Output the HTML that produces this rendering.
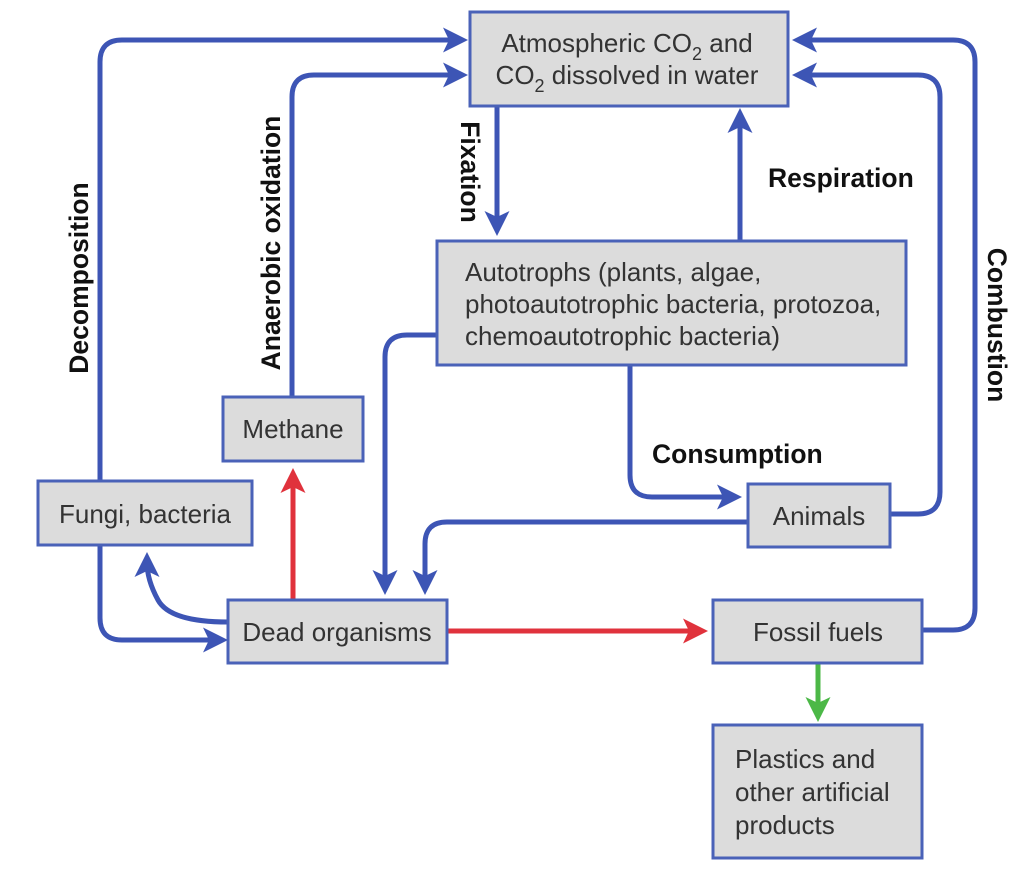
<!DOCTYPE html>
<html><head><meta charset="utf-8"><style>
html,body{margin:0;padding:0;background:#fff}
svg{display:block}
.b{fill:#dcdcdc;stroke:#4a62b8;stroke-width:3}
.t{font-family:"Liberation Sans",sans-serif;font-size:26px;fill:#333}
.l{font-family:"Liberation Sans",sans-serif;font-size:26.5px;font-weight:bold;fill:#111}
.a{fill:none;stroke:#3d55b5;stroke-width:5}
.r{fill:none;stroke:#e0323c;stroke-width:5}
.g{fill:none;stroke:#4cb847;stroke-width:5}
</style></head><body>
<svg width="1022" height="882" viewBox="0 0 1022 882">
<defs>
<marker id="ab" markerWidth="5" markerHeight="5" refX="3" refY="2.5" orient="auto" markerUnits="strokeWidth"><path d="M0,0 L5,2.5 L0,5 L1.2,2.5z" fill="#3d55b5"/></marker>
<marker id="ar" markerWidth="5" markerHeight="5" refX="3" refY="2.5" orient="auto" markerUnits="strokeWidth"><path d="M0,0 L5,2.5 L0,5 L1.2,2.5z" fill="#e0323c"/></marker>
<marker id="ag" markerWidth="5" markerHeight="5" refX="3" refY="2.5" orient="auto" markerUnits="strokeWidth"><path d="M0,0 L5,2.5 L0,5 L1.2,2.5z" fill="#4cb847"/></marker>
</defs>
<path class="a" marker-end="url(#ab)" d="M100,481 V62 Q100,40 122,40 H458"/>
<path class="a" marker-end="url(#ab)" d="M100,545 V618 Q100,640 122,640 H218"/>
<path class="a" marker-end="url(#ab)" d="M228,622 Q170,622 158,600 Q147,580 147,562"/>
<path class="a" marker-end="url(#ab)" d="M292,397 V97 Q292,75 314,75 H458"/>
<path class="a" marker-end="url(#ab)" d="M497,106 V226"/>
<path class="a" marker-end="url(#ab)" d="M740,241 V118"/>
<path class="a" marker-end="url(#ab)" d="M437,335 H407 Q385,335 385,357 V585"/>
<path class="a" marker-end="url(#ab)" d="M630,365 V475 Q630,497 652,497 H732"/>
<path class="a" marker-end="url(#ab)" d="M748,522 H447 Q425,522 425,544 V585"/>
<path class="a" marker-end="url(#ab)" d="M890,514 H918 Q940,514 940,492 V97 Q940,75 918,75 H802"/>
<path class="a" marker-end="url(#ab)" d="M922,630 H953 Q975,630 975,608 V62 Q975,40 953,40 H802"/>
<path class="r" marker-end="url(#ar)" d="M293,600 V478"/>
<path class="r" marker-end="url(#ar)" d="M447,631 H698"/>
<path class="g" marker-end="url(#ag)" d="M818,663 V712"/>
<rect class="b" x="470" y="12" width="318" height="94"/>
<text class="t" x="627" y="52" text-anchor="middle">Atmospheric CO<tspan font-size="18" dy="8">2</tspan><tspan dy="-8"> and</tspan></text>
<text class="t" x="627" y="84" text-anchor="middle">CO<tspan font-size="18" dy="8">2</tspan><tspan dy="-8"> dissolved in water</tspan></text>
<rect class="b" x="437" y="241" width="469" height="124"/>
<text class="t" x="465" y="281">Autotrophs (plants, algae,</text>
<text class="t" x="465" y="313">photoautotrophic bacteria, protozoa,</text>
<text class="t" x="465" y="345">chemoautotrophic bacteria)</text>
<rect class="b" x="223" y="397" width="140" height="64"/>
<text class="t" x="293" y="438" text-anchor="middle">Methane</text>
<rect class="b" x="38" y="481" width="214" height="64"/>
<text class="t" x="145" y="523" text-anchor="middle">Fungi, bacteria</text>
<rect class="b" x="748" y="484" width="142" height="63"/>
<text class="t" x="819" y="525" text-anchor="middle">Animals</text>
<rect class="b" x="228" y="600" width="219" height="63"/>
<text class="t" x="337" y="641" text-anchor="middle">Dead organisms</text>
<rect class="b" x="713" y="600" width="209" height="63"/>
<text class="t" x="818" y="641" text-anchor="middle">Fossil fuels</text>
<rect class="b" x="713" y="725" width="209" height="133"/>
<text class="t" x="735" y="768">Plastics and</text>
<text class="t" x="735" y="801">other artificial</text>
<text class="t" x="735" y="834">products</text>
<text class="l" transform="translate(88,278) rotate(-90)" text-anchor="middle">Decomposition</text>
<text class="l" transform="translate(280,243) rotate(-90)" text-anchor="middle">Anaerobic oxidation</text>
<text class="l" transform="translate(461,172) rotate(90)" text-anchor="middle">Fixation</text>
<text class="l" x="768" y="187">Respiration</text>
<text class="l" transform="translate(988,325) rotate(90)" text-anchor="middle">Combustion</text>
<text class="l" x="652" y="463">Consumption</text>
</svg>
</body></html>
